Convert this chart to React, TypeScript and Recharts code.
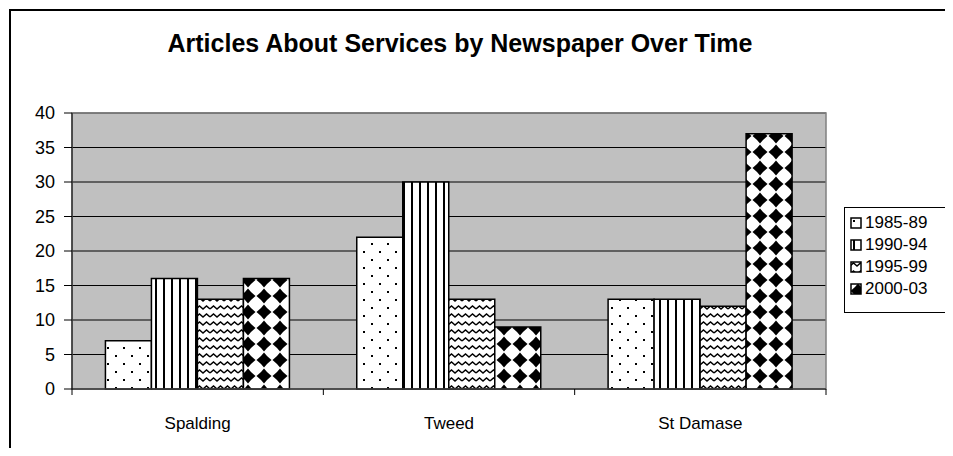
import React from "react";
import {
  BarChart,
  Bar,
  XAxis,
  YAxis,
  CartesianGrid,
  ReferenceArea,
} from "recharts";

const categories = ["Spalding", "Tweed", "St Damase"];
const seriesNames = ["1985-89", "1990-94", "1995-99", "2000-03"];
const values1985 = [7, 22, 13];
const values1990 = [16, 30, 13];
const values1995 = [13, 13, 12];
const values2000 = [16, 9, 37];
const yTicks = [0, 5, 10, 15, 20, 25, 30, 35, 40];

const seriesKeys = ["s1985", "s1990", "s1995", "s2000"];
const patternIds = ["patDots", "patVert", "patWave", "patDiamond"];

const data = categories.map((name, i) => ({
  name,
  s1985: values1985[i],
  s1990: values1990[i],
  s1995: values1995[i],
  s2000: values2000[i],
}));

const FONT = "'Liberation Sans', Arial, sans-serif";

const Patterns = () => (
  <defs>
    <pattern id="patDots" width="16" height="16" patternUnits="userSpaceOnUse">
      <rect width="16" height="16" fill="#fff" />
      <rect x="3" y="3" width="2" height="2" fill="#000" />
      <rect x="11" y="11" width="2" height="2" fill="#000" />
    </pattern>
    <pattern id="patVert" width="8" height="8" patternUnits="userSpaceOnUse">
      <rect width="8" height="8" fill="#fff" />
      <rect x="3" y="0" width="2" height="8" fill="#000" />
    </pattern>
    <pattern id="patWave" width="14" height="8" patternUnits="userSpaceOnUse">
      <rect width="14" height="8" fill="#fff" />
      <path d="M0 5 L3.5 2 L7 5 L10.5 2 L14 5" stroke="#000" strokeWidth="1.5" fill="none" />
    </pattern>
    <pattern id="patDiamond" width="16" height="16" patternUnits="userSpaceOnUse">
      <rect width="16" height="16" fill="#fff" />
      <path d="M8 0.5 L11 4 L15.5 8 L11 12 L8 15.5 L5 12 L0.5 8 L5 4 Z" fill="#000" />
    </pattern>
  </defs>
);

const CategoryTick = (props: any) => {
  const { x, y, payload, width, visibleTicksCount, index } = props;
  const band = width && visibleTicksCount ? width / visibleTicksCount : 251;
  const last = index === visibleTicksCount - 1;
  return (
    <g>
      <line x1={x - band / 2} x2={x - band / 2} y1={y} y2={y + 6} stroke="#000" />
      {last && <line x1={x + band / 2} x2={x + band / 2} y1={y} y2={y + 6} stroke="#000" />}
      <text x={x} y={y + 40} textAnchor="middle" fontSize={17} fontFamily={FONT} fill="#000">
        {payload.value}
      </text>
    </g>
  );
};

const LegendBox = () => (
  <div
    style={{
      position: "absolute",
      left: 844,
      top: 207,
      width: 130,
      height: 106,
      border: "1px solid #000",
      background: "#fff",
      boxSizing: "border-box",
      paddingTop: 4,
    }}
  >
    {seriesNames.map((s, i) => (
      <div
        key={s}
        style={{ display: "flex", alignItems: "center", height: 22, fontFamily: FONT, fontSize: 17 }}
      >
        <svg width={12} height={12} style={{ marginLeft: 5, marginRight: 3 }}>
          <rect x={1} y={1} width={10} height={10} fill={`url(#${patternIds[i]})`} stroke="#000" strokeWidth={1.5} />
        </svg>
        <span>{s}</span>
      </div>
    ))}
  </div>
);

export default function App() {
  return (
    <div style={{ position: "relative", width: 953, height: 456, overflow: "hidden", margin: -8, background: "#fff" }}>
      <div
        style={{
          position: "absolute",
          left: 9,
          top: 9,
          width: 1100,
          height: 600,
          borderLeft: "2px solid #000",
          borderTop: "2px solid #000",
        }}
      />
      <div
        style={{
          position: "absolute",
          left: 0,
          width: 920,
          top: 29,
          textAlign: "center",
          fontFamily: FONT,
          fontWeight: "bold",
          fontSize: 25,
        }}
      >
        Articles About Services by Newspaper Over Time
      </div>
      <div style={{ position: "absolute", left: 0, top: 0 }}>
        <BarChart
          width={953}
          height={456}
          data={data}
          margin={{ top: 113, right: 127, bottom: 37, left: 12 }}
          barCategoryGap="13.3%"
          barGap={0}
        >
          <Patterns />
          <CartesianGrid fill="#C0C0C0" stroke="#000" vertical={false} />
          <ReferenceArea y1={0} y2={40} fill="none" stroke="#808080" strokeWidth={1.5} ifOverflow="visible" />
          <XAxis
            dataKey="name"
            height={30}
            tickLine={false}
            tickSize={0}
            tickMargin={0}
            axisLine={{ stroke: "#404040", strokeWidth: 1.5 }}
            tick={<CategoryTick />}
            interval={0}
          />
          <YAxis
            width={60}
            domain={[0, 40]}
            ticks={yTicks}
            interval={0}
            tickSize={8}
            tickMargin={9}
            axisLine={{ stroke: "#000" }}
            tickLine={{ stroke: "#000" }}
            tick={{ fill: "#000", fontSize: 18, fontFamily: FONT }}
          />
          {seriesKeys.map((k, i) => (
            <Bar
              key={k}
              dataKey={k}
              name={seriesNames[i]}
              fill={`url(#${patternIds[i]})`}
              stroke="#000"
              strokeWidth={1.5}
              isAnimationActive={false}
            />
          ))}
        </BarChart>
      </div>
      <LegendBox />
    </div>
  );
}
